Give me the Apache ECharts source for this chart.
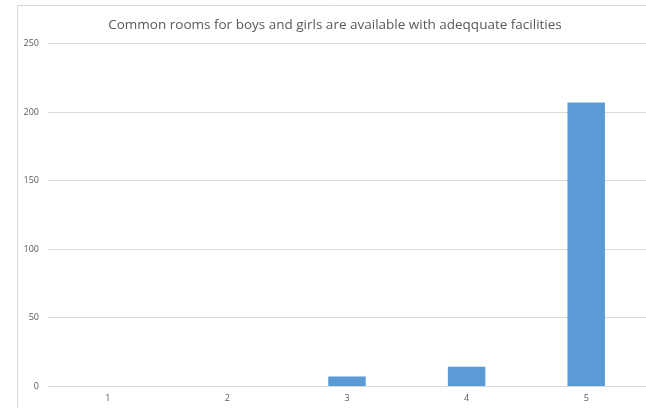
<!DOCTYPE html>
<html><head><meta charset="utf-8">
<script src="https://cdn.jsdelivr.net/npm/echarts@6/dist/echarts.min.js"></script>
<style>html,body{margin:0;padding:0;background:#fff}#c{width:646px;height:408px}</style>
</head><body><div id="c"></div>
<script>
const titleText = "Common rooms for boys and girls are available with adeqquate facilities";
const categories = ["1", "2", "3", "4", "5"];
const values = [0, 0, 7, 14, 207];
const yTicks = [0, 50, 100, 150, 200, 250];

const chart = echarts.init(document.getElementById('c'), null, {renderer: 'canvas'});
chart.setOption({
  animation: false,
  backgroundColor: '#fff',
  title: {
    text: titleText,
    left: 330, top: 13, textAlign: 'center',
    textStyle: {fontFamily: 'Open Sans', fontSize: 13.5, fontWeight: 'normal', color: '#595959'}
  },
  graphic: [{
    type: 'rect', shape: {x: 17.5, y: 5.5, width: 700, height: 500},
    style: {fill: 'none', stroke: '#d9d9d9', lineWidth: 1}, silent: true, z: -1
  }],
  grid: {left: 48, top: 43.5, width: 602, height: 342.5, containLabel: false},
  xAxis: {
    type: 'category', data: categories,
    axisLine: {lineStyle: {color: '#d9d9d9', width: 1}},
    axisTick: {show: false},
    axisLabel: {color: '#595959', fontSize: 9, fontFamily: 'Open Sans', margin: 8}
  },
  yAxis: {
    type: 'value', min: yTicks[0], max: yTicks[yTicks.length - 1], interval: 50,
    axisLine: {show: false}, axisTick: {show: false},
    splitLine: {lineStyle: {color: '#d9d9d9', width: 1}},
    axisLabel: {color: '#595959', fontSize: 9, fontFamily: 'Open Sans', margin: 9}
  },
  series: [{
    type: 'bar', data: values, barWidth: 37.5,
    itemStyle: {color: '#5b9bd5'}
  }]
});
</script></body></html>
